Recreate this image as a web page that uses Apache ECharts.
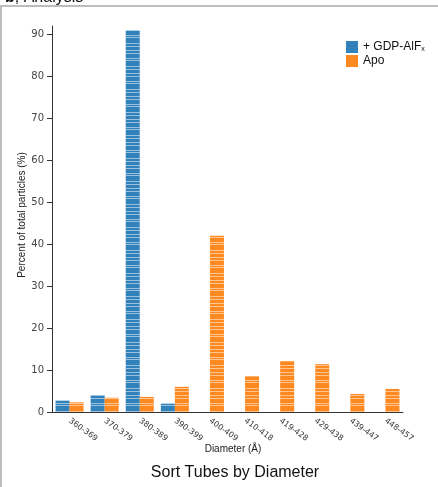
<!DOCTYPE html>
<html>
<head>
<meta charset="utf-8">
<script src="https://cdn.jsdelivr.net/npm/echarts@6/dist/echarts.min.js"></script>
<style>
  html, body { margin: 0; padding: 0; background: #fff; }
  #chart { width: 438px; height: 487px; }
</style>
</head>
<body>
<div id="chart"></div>
<script>
// diameter bins (Å)
var categories = ['360-369', '370-379', '380-389', '390-399', '400-409', '410-418', '419-428', '429-438', '439-447', '448-457'];
// percent of total particles
var gdpValues = [2.7, 4.0, 90.9, 2.0, 0, 0, 0, 0, 0, 0];
var apoValues = [2.3, 3.4, 3.6, 6.0, 42.0, 8.5, 12.1, 11.4, 4.3, 5.5];
var yTicks = [0, 10, 20, 30, 40, 50, 60, 70, 80, 90];

var BLUE = '#1f77b4';
var ORANGE = '#ff7f0e';

// white stripes across the bars, irregular like the single-tube segments
var stripes = {
  symbol: 'rect',
  symbolSize: 1,
  dashArrayX: [1, 0],
  dashArrayY: [1, 3, 1, 2, 1, 4, 1, 1, 1, 5, 1, 2],
  color: 'rgba(255,255,255,0.55)',
  rotation: 0
};

var chart = echarts.init(document.getElementById('chart'));

var option = {
  animation: false,
  grid: { left: 52, right: 35, top: 26, bottom: 75 },
  legend: {
    orient: 'vertical',
    left: 341,
    top: 36,
    itemWidth: 12,
    itemHeight: 12,
    itemGap: 2,
    icon: 'rect',
    data: [
      { name: '+ GDP-AlF', itemStyle: { color: BLUE, decal: 'none' } },
      { name: 'Apo', itemStyle: { color: ORANGE, decal: 'none' } }
    ],
    formatter: function (name) {
      return name === 'Apo' ? name : name + '{sub|x}';
    },
    textStyle: {
      fontFamily: 'Liberation Sans',
      fontSize: 12,
      color: '#111',
      rich: {
        sub: { fontFamily: 'Liberation Sans', fontSize: 7, color: '#111', padding: [5, 0, 0, 0] }
      }
    }
  },
  xAxis: {
    type: 'category',
    data: categories,
    axisLine: { lineStyle: { color: '#333' } },
    axisTick: { alignWithLabel: true, length: 5, lineStyle: { color: '#333' } },
    axisLabel: {
      rotate: -36,
      interval: 0,
      margin: 8,
      fontFamily: 'DejaVu Sans',
      fontSize: 8,
      color: '#333'
    }
  },
  yAxis: {
    type: 'value',
    min: 0,
    max: 92,
    interval: 10,
    splitLine: { show: false },
    axisLine: { show: true, lineStyle: { color: '#333' } },
    axisTick: { show: true, length: 5, customValues: yTicks, lineStyle: { color: '#333' } },
    axisLabel: {
      customValues: yTicks,
      margin: 8,
      fontFamily: 'DejaVu Sans',
      fontSize: 10,
      color: '#444'
    }
  },
  series: [
    {
      name: '+ GDP-AlF',
      type: 'bar',
      data: gdpValues,
      barWidth: 14,
      barGap: '0%',
      itemStyle: { color: BLUE, opacity: 0.92, decal: stripes }
    },
    {
      name: 'Apo',
      type: 'bar',
      data: apoValues,
      barWidth: 14,
      barGap: '0%',
      itemStyle: { color: ORANGE, opacity: 0.92, decal: stripes }
    }
  ],
  graphic: [
    // panel frame
    { type: 'rect', shape: { x: 0, y: 5, width: 438, height: 2 }, style: { fill: '#bdbdbd' }, silent: true },
    { type: 'rect', shape: { x: 0, y: 5, width: 2, height: 482 }, style: { fill: '#bdbdbd' }, silent: true },
    // panel heading, cut off by the top edge
    {
      type: 'text', left: 5, top: -10,
      style: {
        text: '{b|b}, Analysis',
        font: '16px "Liberation Sans"',
        fill: '#111',
        rich: { b: { fontWeight: 'bold', fontSize: 16, fontFamily: 'Liberation Sans' } }
      }
    },
    {
      type: 'text', x: 22, y: 215, rotation: Math.PI / 2,
      style: {
        text: 'Percent of total particles (%)',
        font: '10px "Liberation Sans"',
        fill: '#222',
        align: 'center',
        verticalAlign: 'middle'
      }
    },
    {
      type: 'text', x: 233, y: 449,
      style: {
        text: 'Diameter (Å)',
        font: '10px "Liberation Sans"',
        fill: '#222',
        align: 'center',
        verticalAlign: 'middle'
      }
    },
    {
      type: 'text', x: 235, y: 473,
      style: {
        text: 'Sort Tubes by Diameter',
        font: '16px "Liberation Sans"',
        fill: '#111',
        align: 'center',
        verticalAlign: 'middle'
      }
    }
  ]
};

chart.setOption(option);
</script>
</body>
</html>
